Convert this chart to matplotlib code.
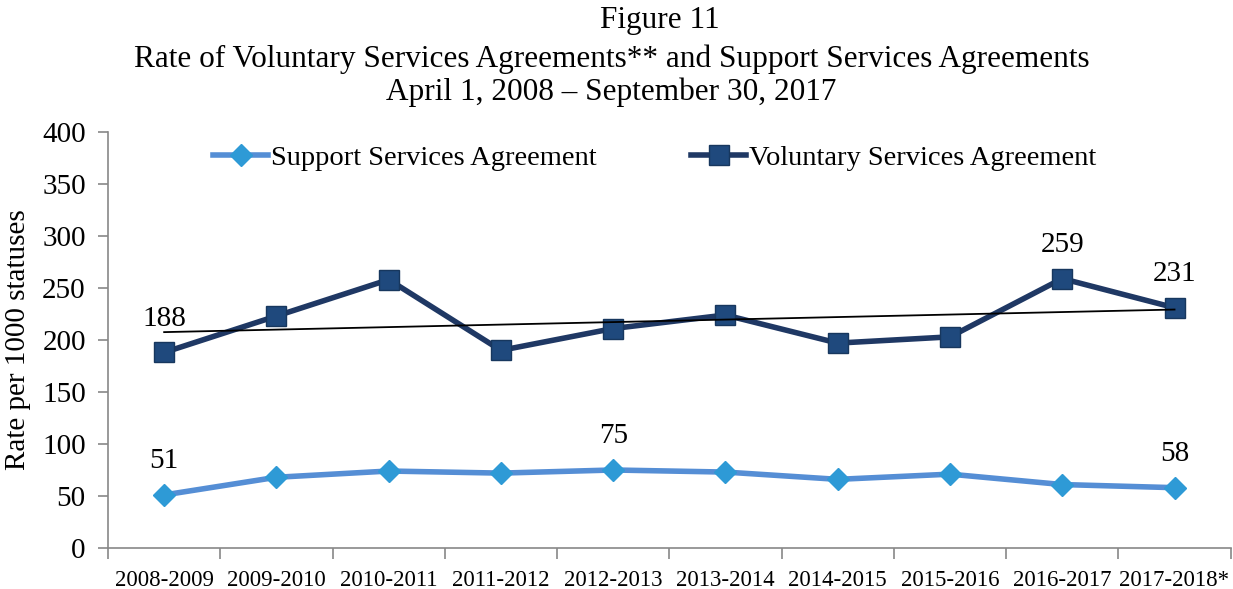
import numpy as np
import matplotlib.pyplot as plt

# Values
years = ['2008-2009', '2009-2010', '2010-2011', '2011-2012', '2012-2013',
         '2013-2014', '2014-2015', '2015-2016', '2016-2017', '2017-2018*']
support = [51, 68, 74, 72, 75, 73, 66, 71, 61, 58]
voluntary = [188, 223, 258, 190, 211, 224, 197, 203, 259, 231]
support_labels = {0: '51', 4: '75', 9: '58'}
voluntary_labels = {0: '188', 8: '259', 9: '231'}

plt.rcParams['font.family'] = ['Liberation Serif', 'DejaVu Serif']

fig = plt.figure(figsize=(12.33, 5.89), dpi=100)
ax = fig.add_axes([0.0876, 0.0696, 0.9105, 0.7064])

x = np.arange(len(years))

ax.plot(x, support, color='#558ED5', lw=4, marker='D', ms=11,
        mfc='#2E9AD6', mec='#2E9AD6', label='Support Services Agreement', zorder=3)
ax.plot(x, voluntary, color='#1F3864', lw=4, marker='s', ms=14,
        mfc='#1F497D', mec='#17375E', mew=1, label='Voluntary Services Agreement', zorder=3)

# linear trendline on voluntary series
k, b = np.polyfit(x, voluntary, 1)
ax.plot(x, k * x + b, color='black', lw=1.3, zorder=4)

for i, t in support_labels.items():
    ax.annotate(t, (x[i], support[i]), xytext=(0, 15), textcoords='offset points',
                ha='center', va='bottom', fontsize=21)
for i, t in voluntary_labels.items():
    ax.annotate(t, (x[i], voluntary[i]), xytext=(0, 15), textcoords='offset points',
                ha='center', va='bottom', fontsize=21)

ax.set_xlim(-0.5, len(years) - 0.5)
ax.set_ylim(0, 400)
ax.set_yticks(range(0, 401, 50))
ax.set_xticks(x)
ax.set_xticklabels(years, fontsize=16.5)
ax.set_xticks(np.arange(-0.5, len(years), 1), minor=True)
ax.tick_params(axis='x', which='major', length=0, pad=16)
ax.tick_params(axis='x', which='minor', length=8, color='#888888', width=1.2)
ax.tick_params(axis='y', labelsize=21, length=7, color='#888888', width=1.2, pad=9)

for s in ['top', 'right']:
    ax.spines[s].set_visible(False)
for s in ['left', 'bottom']:
    ax.spines[s].set_color('#888888')
    ax.spines[s].set_linewidth(1.2)

ax.set_ylabel('Rate per 1000 statuses', fontsize=21, labelpad=8)

ax.legend(loc='upper center', bbox_to_anchor=(0.487, 1.03), ncol=2, frameon=False,
          fontsize=20.5, handlelength=1.95, handletextpad=0.1, columnspacing=3.3)

fig.text(0.535, 0.966, 'Figure 11', ha='center', va='center', fontsize=22.5)
fig.text(0.496, 0.900, 'Rate of Voluntary Services Agreements** and Support Services Agreements',
         ha='center', va='center', fontsize=22.5)
fig.text(0.496, 0.843, 'April 1, 2008 \u2013 September 30, 2017', ha='center', va='center', fontsize=22.5)

fig.savefig('out.png', dpi=100)
